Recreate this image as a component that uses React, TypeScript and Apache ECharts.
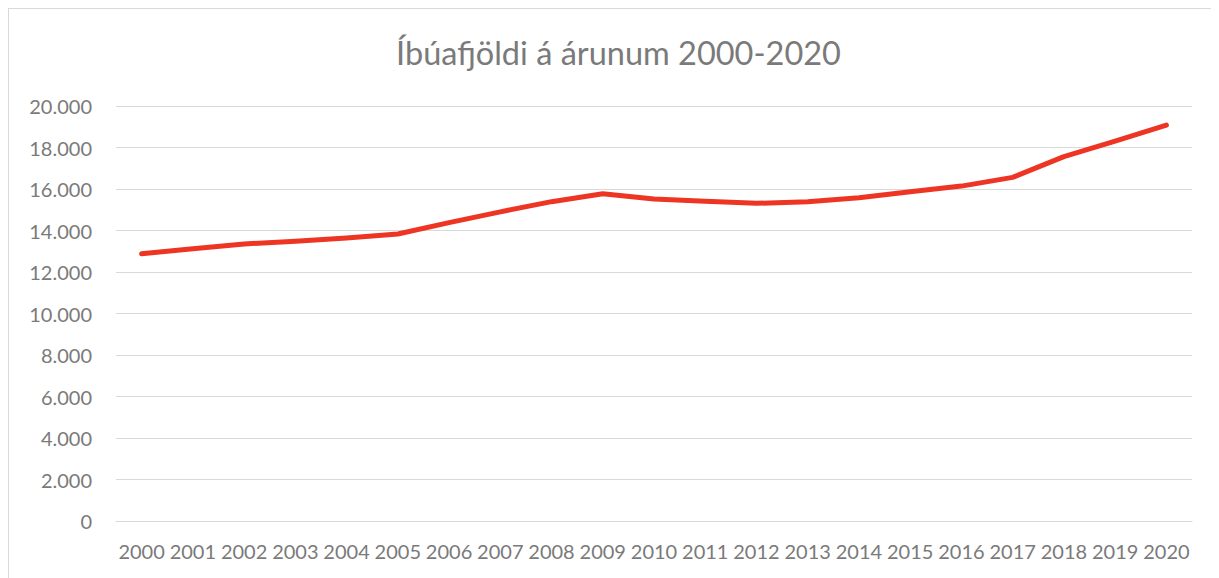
import React, { useEffect, useRef } from "react";
import * as echarts from "echarts";

const titleText = "Íbúafjöldi á árunum 2000-2020";
const years = [
  "2000", "2001", "2002", "2003", "2004", "2005", "2006", "2007", "2008", "2009", "2010",
  "2011", "2012", "2013", "2014", "2015", "2016", "2017", "2018", "2019", "2020",
];
const population = [
  12880, 13120, 13350, 13480, 13640, 13830, 14380, 14900, 15390, 15770, 15520,
  15410, 15310, 15390, 15580, 15870, 16140, 16560, 17560, 18310, 19080,
];
const yMin = 0;
const yMax = 20000;
const yStep = 2000;

const textColor = "#7a7a7a";
const gridColor = "#d9d9d9";
const lineColor = "#EE3524";
const fontFamily = "Lato, 'Open Sans', sans-serif";

function fmt(v: number): string {
  return String(Math.round(v)).replace(/\B(?=(\d{3})+(?!\d))/g, ".");
}

export default function App() {
  const ref = useRef<HTMLDivElement>(null);
  useEffect(() => {
    if (!ref.current) return;
    const chart = echarts.init(ref.current, undefined, { renderer: "svg" });
    chart.setOption({
      animation: false,
      backgroundColor: "#ffffff",
      title: {
        text: titleText,
        left: "center",
        top: 22,
        textStyle: {
          color: textColor,
          fontFamily,
          fontSize: 32.5,
          fontWeight: "normal",
        },
      },
      grid: { left: 107, top: 97, width: 1076, height: 415, containLabel: false },
      xAxis: {
        type: "category",
        data: years,
        boundaryGap: true,
        axisLine: { show: true, lineStyle: { color: gridColor, width: 1 } },
        axisTick: { show: false },
        axisLabel: {
          interval: 0,
          margin: 20,
          color: textColor,
          fontFamily,
          fontSize: 20,
        },
      },
      yAxis: {
        type: "value",
        min: yMin,
        max: yMax,
        interval: yStep,
        axisLine: { show: false },
        axisTick: { show: false },
        splitLine: { lineStyle: { color: gridColor, width: 1 } },
        axisLabel: {
          margin: 24,
          color: textColor,
          fontFamily,
          fontSize: 20,
          formatter: (v: number) => fmt(v),
        },
      },
      series: [
        {
          type: "line",
          data: population,
          showSymbol: false,
          symbol: "none",
          lineStyle: { color: lineColor, width: 5, cap: "round", join: "round" },
          itemStyle: { color: lineColor },
        },
      ],
    });
    return () => chart.dispose();
  }, []);
  return (
    <div
      ref={ref}
      style={{
        width: 1219,
        height: 580,
        border: "1px solid #d9d9d9",
        boxSizing: "content-box",
      }}
    />
  );
}
